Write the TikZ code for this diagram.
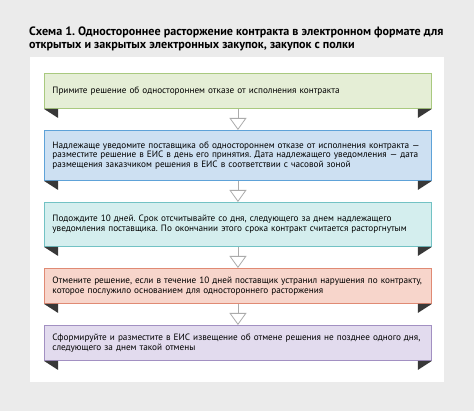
\documentclass[tikz,border=0pt]{standalone}
\usepackage{fontspec}
\setmainfont{PT Sans}
\usetikzlibrary{arrows.meta}
\frenchspacing

\definecolor{bgGray}{HTML}{EBEBEB}
\definecolor{foldDark}{HTML}{383838}
\definecolor{arrGray}{HTML}{ABABAB}
\definecolor{greenF}{HTML}{E5EED6}
\definecolor{greenD}{HTML}{A9C97F}
\definecolor{blueF}{HTML}{CDE0F2}
\definecolor{blueD}{HTML}{5EA2D8}
\definecolor{tealF}{HTML}{D4EEEE}
\definecolor{tealD}{HTML}{72C2C4}
\definecolor{redF}{HTML}{F7D5CB}
\definecolor{redD}{HTML}{E08A74}
\definecolor{lilaF}{HTML}{E2DBEE}
\definecolor{lilaD}{HTML}{A290C2}

\begin{document}
\begin{tikzpicture}[x=1pt,y=-1pt,stepbox/.style={draw,line width=0.9pt,anchor=north west,minimum width=387pt,text width=371pt,inner xsep=8pt,inner ysep=0pt,align=left,font=\fontsize{9.2}{9.6}\selectfont},
  greenbox/.style={stepbox,fill=greenF,draw=greenD},
  bluebox/.style={stepbox,fill=blueF,draw=blueD},
  tealbox/.style={stepbox,fill=tealF,draw=tealD},
  redbox/.style={stepbox,fill=redF,draw=redD},
  lilabox/.style={stepbox,fill=lilaF,draw=lilaD},
  fold/.style={fill=foldDark},
  arr/.style={draw=arrGray,line width=0.8pt,-{Triangle[open,length=12pt,width=17pt,fill=white]}}]
\def\bx{44};
\def\fw{14};
\def\fh{9};

\fill[bgGray] (0,0) rectangle (474,411);
\fill[white] (30,57) rectangle (444,382);

\node[anchor=north west,inner sep=0pt,align=left,font=\fontsize{12.1}{13}\selectfont\bfseries] (T) at (29,27) {Схема 1. Одностороннее расторжение контракта в электронном формате для\\открытых и закрытых электронных закупок, закупок с полки};

\node[greenbox,minimum height=35pt] (S1) at (\bx,73) {Примите решение об одностороннем отказе от исполнения контракта};
\node[bluebox,minimum height=50pt] (S2) at (\bx,130) {Надлежаще уведомите поставщика об одностороннем отказе от исполнения контракта —\\разместите решение в ЕИС в день его принятия. Дата надлежащего уведомления — дата\\размещения заказчиком решения в ЕИС в соответствии с часовой зоной};
\node[tealbox,minimum height=44pt] (S3) at (\bx,202) {Подождите 10 дней. Срок отсчитывайте со дня, следующего за днем надлежащего\\уведомления поставщика. По окончании этого срока контракт считается расторгнутым};
\node[redbox,minimum height=35pt] (S4) at (\bx,268) {Отмените решение, если в течение 10 дней поставщик устранил нарушения по контракту,\\которое послужило основанием для одностороннего расторжения};
\node[lilabox,minimum height=35pt] (S5) at (\bx,325) {Сформируйте и разместите в ЕИС извещение об отмене решения не позднее одного дня,\\следующего за днем такой отмены};

% folds under the boxes
\fill[fold] (S1.south west) -- ++(\fw,0) -- ++(0,\fh) -- cycle;
\fill[fold] (S1.south east) -- ++(-\fw,0) -- ++(0,\fh) -- cycle;
\fill[fold] (S2.south west) -- ++(\fw,0) -- ++(0,\fh) -- cycle;
\fill[fold] (S2.south east) -- ++(-\fw,0) -- ++(0,\fh) -- cycle;
\fill[fold] (S3.south west) -- ++(\fw,0) -- ++(0,\fh) -- cycle;
\fill[fold] (S3.south east) -- ++(-\fw,0) -- ++(0,\fh) -- cycle;
\fill[fold] (S4.south west) -- ++(\fw,0) -- ++(0,\fh) -- cycle;
\fill[fold] (S4.south east) -- ++(-\fw,0) -- ++(0,\fh) -- cycle;
\fill[fold] (S5.south west) -- ++(\fw,0) -- ++(0,\fh) -- cycle;
\fill[fold] (S5.south east) -- ++(-\fw,0) -- ++(0,\fh) -- cycle;

\draw[arr] (S1.south) -- (S2.north);
\draw[arr] (S2.south) -- (S3.north);
\draw[arr] (S3.south) -- (S4.north);
\draw[arr] (S4.south) -- (S5.north);
\end{tikzpicture}
\end{document}
